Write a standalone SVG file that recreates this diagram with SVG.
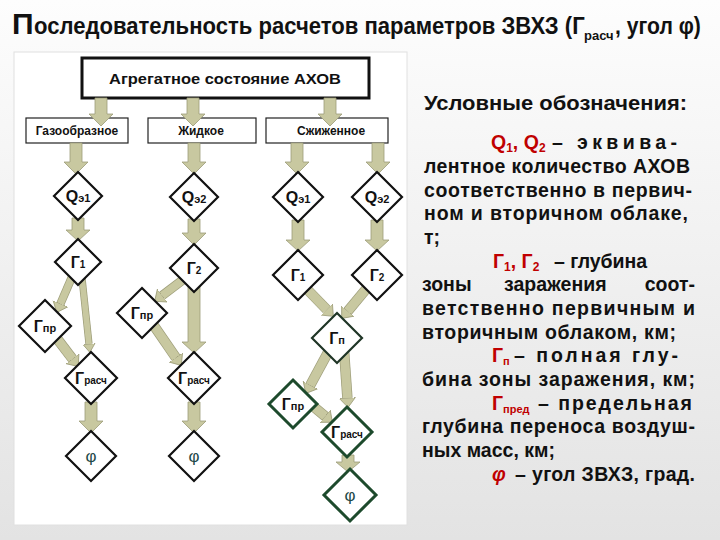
<svg xmlns="http://www.w3.org/2000/svg" width="720" height="540" viewBox="0 0 720 540">
<defs>
<linearGradient id="bg" x1="0" y1="0" x2="0" y2="1">
<stop offset="0" stop-color="#fdfdfd"/>
<stop offset="1" stop-color="#e3e3e3"/>
</linearGradient>
<marker id="hd" markerUnits="userSpaceOnUse" orient="auto" viewBox="0 -9 11 18" refX="0" refY="0" markerWidth="11" markerHeight="18">
<path d="M0,-8 L9.5,0 L0,8 Z" fill="#c8c8a0" stroke="#9c9c78" stroke-width="0.8"/>
</marker>
<marker id="hs" markerUnits="userSpaceOnUse" orient="auto" viewBox="0 -7 10 14" refX="0" refY="0" markerWidth="10" markerHeight="14">
<path d="M0,-6 L8.5,0 L0,6 Z" fill="#c8c8a0" stroke="#9c9c78" stroke-width="0.8"/>
</marker>
<style>
text{font-family:"Liberation Sans",Arial,sans-serif;}
.ttl{font-weight:bold;fill:#111;}
.box{fill:#fff;stroke:#222;stroke-width:1.2;}
.box0{fill:#fff;stroke:#111;stroke-width:3;}
.bl{font-weight:bold;font-size:12px;text-anchor:middle;fill:#111;}
.dm{fill:#fff;stroke:#111;stroke-width:2.2;}
.dg{fill:#fff;stroke:#1d4a2c;stroke-width:3;}
.dl{font-weight:bold;font-size:16px;text-anchor:middle;fill:#111;}
.ph{font-size:17px;text-anchor:middle;fill:#1f4a4a;}
.fa{fill:#c8c8a0;stroke:#9c9c78;stroke-width:0.8;}
.bo{stroke:#9c9c78;fill:none;}
.bi{stroke:#c8c8a0;fill:none;}
.lg{font-weight:bold;font-size:19.5px;fill:#111;}
.r{fill:#c00000;}
</style>
</defs>
<rect x="0" y="0" width="720" height="540" fill="url(#bg)"/>
<rect x="14" y="52" width="393" height="473" fill="#fff" stroke="#e0e0e0" stroke-width="1"/>

<g id="title">
<text class="ttl" x="12" y="34" font-size="30">П</text>
<text class="ttl" transform="translate(34,34) scale(0.96,1)" x="0" y="0" font-size="23">оследовательность расчетов параметров ЗВХЗ (Г</text>
<text class="ttl" x="584" y="40" font-size="13">расч</text>
<text class="ttl" transform="translate(615,34) scale(0.92,1)" x="0" y="0" font-size="23">, угол φ)</text>
</g>

<g id="n-state">
<rect class="box0" x="82" y="58" width="287" height="40"/>
<text x="225" y="84" font-weight="bold" font-size="15.5" text-anchor="middle" fill="#111" textLength="232" lengthAdjust="spacingAndGlyphs">Агрегатное состояние АХОВ</text>
</g>
<g id="n-gas">
<rect class="box" x="26" y="118" width="102" height="25"/>
<text class="bl" x="77" y="135">Газообразное</text>
</g>
<g id="n-liq">
<rect class="box" x="148" y="118" width="108" height="25"/>
<text class="bl" x="201" y="135">Жидкое</text>
</g>
<g id="n-lique">
<rect class="box" x="266" y="118" width="122" height="25"/>
<text class="bl" x="331" y="135">Сжиженное</text>
</g>

<g id="connectors">
<polygon class="fa" points="95,98 107,98 107,114 113,114 101,126 89,114 95,114"/>
<polygon class="fa" points="187,98 199,98 199,114 205,114 193,126 181,114 187,114"/>
<polygon class="fa" points="324,98 336,98 336,114 342,114 330,126 318,114 324,114"/>

<polygon class="fa" points="70,143 82,143 82,162 88,162 76,174 64,162 70,162"/>
<polygon class="fa" points="72,218 84,218 84,230 90,230 78,241 66,230 72,230"/>
<polygon class="fa" points="85,402 97,402 97,421 103,421 91,433 79,421 85,421"/>

<polygon class="fa" points="188,143 200,143 200,162 206,162 194,174 182,162 188,162"/>
<polygon class="fa" points="188,219 200,219 200,233 206,233 194,245 182,233 188,233"/>
<polygon class="fa" points="188,286 200,286 200,342 206,342 194,353 182,342 188,342"/>
<polygon class="fa" points="188,402 200,402 200,421 206,421 194,433 182,421 188,421"/>

<polygon class="fa" points="291,143 303,143 303,162 309,162 297,174 285,162 291,162"/>
<polygon class="fa" points="372,143 384,143 384,162 390,162 378,174 366,162 372,162"/>
<polygon class="fa" points="292,220 304,220 304,240 310,240 298,251 286,240 292,240"/>
<polygon class="fa" points="371,220 383,220 383,240 389,240 377,251 365,240 371,240"/>
<polygon class="fa" points="342,455 354,455 354,462 360,462 348,472 336,462 342,462"/>

<g class="bo">
<line x1="72" y1="277" x2="60.5" y2="303.7" stroke-width="8.4"/>
<line x1="82" y1="278" x2="89" y2="344" stroke-width="7.2"/>
<line x1="52" y1="332" x2="72.5" y2="358.9" stroke-width="10.4"/>
<line x1="188" y1="276" x2="162.2" y2="295.6" stroke-width="9.4"/>
<line x1="150" y1="320" x2="175.9" y2="357.6" stroke-width="10.4"/>
<line x1="300" y1="282" x2="326.7" y2="309.5" stroke-width="10.4"/>
<line x1="372" y1="282" x2="347.8" y2="311.1" stroke-width="10.4"/>
<line x1="332" y1="345" x2="310.3" y2="385.1" stroke-width="10.4"/>
<line x1="344" y1="350" x2="347.4" y2="398" stroke-width="10.4"/>
<line x1="308" y1="402" x2="325.1" y2="416.2" stroke-width="10.4"/>
</g>
<g class="bi">
<line x1="72" y1="277" x2="60.5" y2="303.7" stroke-width="7" marker-end="url(#hd)"/>
<line x1="82" y1="278" x2="89" y2="344" stroke-width="5.8" marker-end="url(#hs)"/>
<line x1="52" y1="332" x2="72.5" y2="358.9" stroke-width="9" marker-end="url(#hd)"/>
<line x1="188" y1="276" x2="162.2" y2="295.6" stroke-width="8" marker-end="url(#hd)"/>
<line x1="150" y1="320" x2="175.9" y2="357.6" stroke-width="9" marker-end="url(#hd)"/>
<line x1="300" y1="282" x2="326.7" y2="309.5" stroke-width="9" marker-end="url(#hd)"/>
<line x1="372" y1="282" x2="347.8" y2="311.1" stroke-width="9" marker-end="url(#hd)"/>
<line x1="332" y1="345" x2="310.3" y2="385.1" stroke-width="9" marker-end="url(#hd)"/>
<line x1="344" y1="350" x2="347.4" y2="398" stroke-width="9" marker-end="url(#hd)"/>
<line x1="308" y1="402" x2="325.1" y2="416.2" stroke-width="9" marker-end="url(#hd)"/>
</g>
</g>

<g id="c1-q"><polygon class="dm" points="78,172 102,196 78,220 54,196"/><text class="dl" x="78" y="202">Q<tspan font-size="11">э1</tspan></text></g>
<g id="c1-g1"><polygon class="dm" points="78,239 101,262 78,285 55,262"/><text class="dl" x="78" y="268">Г<tspan font-size="10">1</tspan></text></g>
<g id="c1-gpr"><polygon class="dm" points="45,300 71,326 45,352 19,326"/><text class="dl" x="45" y="332">Г<tspan font-size="11">пр</tspan></text></g>
<g id="c1-gr"><polygon class="dm" points="91,352 117,378 91,404 65,378"/><text class="dl" x="91" y="384">Г<tspan font-size="10">расч</tspan></text></g>
<g id="c1-phi"><polygon class="dm" points="91,431 116,456 91,481 66,456"/><text class="ph" x="91" y="462">φ</text></g>

<g id="c2-q"><polygon class="dm" points="194,173 218,197 194,221 170,197"/><text class="dl" x="194" y="203">Q<tspan font-size="11">э2</tspan></text></g>
<g id="c2-g2"><polygon class="dm" points="194,244 218,268 194,292 170,268"/><text class="dl" x="194" y="274">Г<tspan font-size="10">2</tspan></text></g>
<g id="c2-gpr"><polygon class="dm" points="142,288 167,313 142,338 117,313"/><text class="dl" x="142" y="319">Г<tspan font-size="11">пр</tspan></text></g>
<g id="c2-gr"><polygon class="dm" points="194,352 220,378 194,404 168,378"/><text class="dl" x="194" y="384">Г<tspan font-size="10">расч</tspan></text></g>
<g id="c2-phi"><polygon class="dm" points="194,431 219,456 194,481 169,456"/><text class="ph" x="194" y="462">φ</text></g>

<g id="c3-q1"><polygon class="dm" points="298,172 323,197 298,222 273,197"/><text class="dl" x="298" y="203">Q<tspan font-size="11">э1</tspan></text></g>
<g id="c3-q2"><polygon class="dm" points="377,172 402,197 377,222 352,197"/><text class="dl" x="377" y="203">Q<tspan font-size="11">э2</tspan></text></g>
<g id="c3-g1"><polygon class="dm" points="298,250 323,275 298,300 273,275"/><text class="dl" x="298" y="281">Г<tspan font-size="10">1</tspan></text></g>
<g id="c3-g2"><polygon class="dm" points="377,250 402,275 377,300 352,275"/><text class="dl" x="377" y="281">Г<tspan font-size="10">2</tspan></text></g>
<g id="c3-gp"><polygon class="dm" points="337,313 362,338 337,363 312,338" style="stroke:#1f3526"/><text class="dl" x="337" y="344">Г<tspan font-size="11">п</tspan></text></g>
<g id="c3-gpr"><polygon class="dg" points="293,380 317,404 293,428 269,404"/><text class="dl" x="293" y="410">Г<tspan font-size="11">пр</tspan></text></g>
<g id="c3-gr"><polygon class="dg" points="347,407 372,432 347,457 322,432"/><text class="dl" x="347" y="438">Г<tspan font-size="10">расч</tspan></text></g>
<g id="c3-phi"><polygon class="dg" points="350,469 376,495 350,521 324,495"/><text class="ph" x="350" y="501">φ</text></g>

<g id="legend">
<text class="lg" x="424" y="110" textLength="263" lengthAdjust="spacingAndGlyphs">Условные обозначения:</text>
<text class="lg r" x="491" y="149">Q<tspan font-size="12" dy="3">1</tspan><tspan dy="-3">, Q</tspan><tspan font-size="12" dy="3">2</tspan></text>
<text class="lg" x="552" y="149" textLength="125">– эквива-</text>
<text class="lg" x="424" y="173" textLength="266">лентное количество АХОВ</text>
<text class="lg" x="424" y="197" textLength="268">соответственно в первич-</text>
<text class="lg" x="424" y="220" textLength="264">ном и вторичном облаке,</text>
<text class="lg" x="424" y="244">т;</text>
<text class="lg r" x="493" y="268">Г<tspan font-size="12" dy="3">1</tspan><tspan dy="-3">, Г</tspan><tspan font-size="12" dy="3">2</tspan></text>
<text class="lg" x="554" y="268" textLength="93">– глубина</text>
<text class="lg" x="422" y="291">зоны</text>
<text class="lg" x="504" y="291">заражения</text>
<text class="lg" x="695" y="291" text-anchor="end">соот-</text>
<text class="lg" x="422" y="315" textLength="273">ветственно первичным и</text>
<text class="lg" x="422" y="339" textLength="254">вторичным облаком, км;</text>
<text class="lg r" x="492" y="362">Г<tspan font-size="11" dy="3">п</tspan></text>
<text class="lg" x="514" y="362" textLength="164">– полная глу-</text>
<text class="lg" x="422" y="386" textLength="273">бина зоны заражения, км;</text>
<text class="lg r" x="492" y="410">Г<tspan font-size="11" dy="3">пред</tspan></text>
<text class="lg" x="538" y="410" textLength="154">– предельная</text>
<text class="lg" x="422" y="433" textLength="273">глубина переноса воздуш-</text>
<text class="lg" x="422" y="457">ных масс, км;</text>
<text class="lg r" x="492" y="481" font-style="italic">φ</text>
<text class="lg" x="515" y="481" textLength="180">– угол ЗВХЗ, град.</text>
</g>
</svg>
